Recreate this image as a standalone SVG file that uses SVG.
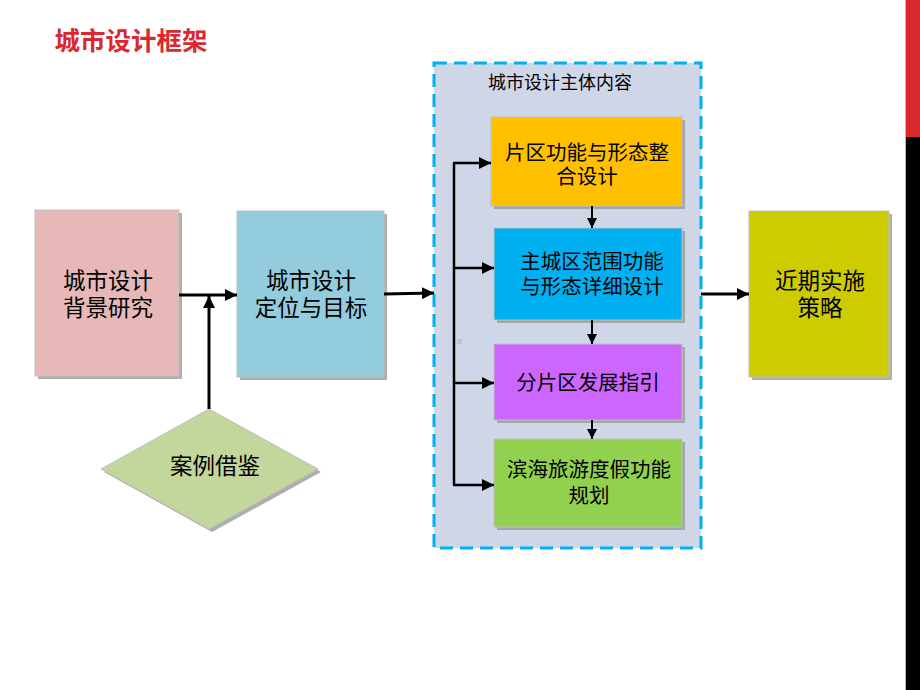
<svg xmlns="http://www.w3.org/2000/svg" width="920" height="690" viewBox="0 0 920 690">
<style>
text{font-family:"Liberation Sans","Noto Sans CJK SC",sans-serif;fill:#000;text-anchor:middle;dominant-baseline:central}
.big{font-size:22.5px}
.mid{font-size:20.5px}
.sh{fill:#9a9a9a;opacity:0.8}
.bx{stroke:#bfbfbf;stroke-width:1}
.ln{stroke:#000;fill:none}
</style>
<defs>
<marker id="ah" viewBox="0 0 10 10" refX="10" refY="5" markerWidth="4" markerHeight="4" orient="auto" markerUnits="strokeWidth">
<path d="M0,0 L10,5 L0,10 z" fill="#000"/>
</marker>
<marker id="ah2" viewBox="0 0 10 10" refX="10" refY="5" markerWidth="5" markerHeight="5" orient="auto" markerUnits="strokeWidth">
<path d="M0,0 L10,5 L0,10 z" fill="#000"/>
</marker>
</defs>
<rect x="0" y="0" width="920" height="690" fill="#fff"/>
<rect x="905" y="0" width="1" height="690" fill="#bbb"/>
<rect x="906" y="0" width="14" height="137" fill="#D9292F"/>
<rect x="906" y="137" width="14" height="553" fill="#000"/>
<text x="131" y="41" style="font-size:25.5px;font-weight:bold;fill:#D9292F">城市设计框架</text>

<g id="container">
<rect x="434" y="63" width="267" height="485" fill="#CED6E8" stroke="#00B0F0" stroke-width="3" stroke-dasharray="13 7"/>
<text x="560" y="83" style="font-size:18px">城市设计主体内容</text>
<rect x="457" y="339" width="5" height="5" fill="#bcc3d2"/>
</g>

<g id="bg">
<rect class="sh" x="38" y="213" width="144" height="166"/>
<rect class="bx" x="35" y="210" width="144" height="166" fill="#E6B8B7"/>
<text class="big" x="108" y="281">城市设计</text>
<text class="big" x="108" y="308">背景研究</text>
</g>

<g id="pos">
<rect class="sh" x="240" y="214" width="147" height="166"/>
<rect class="bx" x="237" y="211" width="147" height="166" fill="#93CDDD"/>
<text class="big" x="311" y="281">城市设计</text>
<text class="big" x="311" y="308">定位与目标</text>
</g>

<g id="case">
<polygon class="sh" points="212,412 321,472 212,532 104,472"/>
<polygon points="209,409 318,469 209,529 101,469" fill="#C3D69B" stroke="#bfbfbf" stroke-width="1"/>
<text class="big" x="215" y="466">案例借鉴</text>
</g>

<g id="a">
<rect class="sh" x="494" y="120" width="191" height="89"/>
<rect class="bx" x="491" y="117" width="191" height="89" fill="#FFC000"/>
<text class="mid" x="587" y="152">片区功能与形态整</text>
<text class="mid" x="587" y="176">合设计</text>
</g>

<g id="b">
<rect class="sh" x="497" y="231" width="188" height="92"/>
<rect class="bx" x="494" y="228" width="188" height="92" fill="#00B0F0"/>
<text class="mid" x="592" y="261">主城区范围功能</text>
<text class="mid" x="592" y="286">与形态详细设计</text>
</g>

<g id="c">
<rect class="sh" x="497" y="347" width="188" height="76"/>
<rect class="bx" x="494" y="344" width="188" height="76" fill="#CC66FF"/>
<text class="mid" x="588" y="382">分片区发展指引</text>
</g>

<g id="d">
<rect class="sh" x="497" y="442" width="188" height="88"/>
<rect class="bx" x="494" y="439" width="188" height="88" fill="#92D050"/>
<text class="mid" x="589" y="469">滨海旅游度假功能</text>
<text class="mid" x="589" y="495">规划</text>
</g>

<g id="e">
<rect class="sh" x="752" y="214" width="140" height="166"/>
<rect class="bx" x="749" y="211" width="140" height="166" fill="#CCCC00"/>
<text class="big" x="820" y="281">近期实施</text>
<text class="big" x="820" y="308">策略</text>
</g>

<g id="connectors">
<line class="ln" x1="179" y1="295" x2="237" y2="295" stroke-width="3" marker-end="url(#ah)"/>
<line class="ln" x1="209" y1="409" x2="209" y2="296" stroke-width="3" marker-end="url(#ah)"/>
<line class="ln" x1="384" y1="294" x2="434" y2="293" stroke-width="3" marker-end="url(#ah)"/>
<line class="ln" x1="701" y1="294" x2="749" y2="294" stroke-width="3" marker-end="url(#ah)"/>
<polyline class="ln" points="454,163 454,485" stroke-width="2.5"/>
<line class="ln" x1="453" y1="163" x2="491" y2="163" stroke-width="2.5" marker-end="url(#ah2)"/>
<line class="ln" x1="453" y1="268" x2="494" y2="268" stroke-width="2.5" marker-end="url(#ah2)"/>
<line class="ln" x1="453" y1="383" x2="494" y2="383" stroke-width="2.5" marker-end="url(#ah2)"/>
<line class="ln" x1="453" y1="485" x2="494" y2="485" stroke-width="2.5" marker-end="url(#ah2)"/>
<line class="ln" x1="592" y1="206" x2="592" y2="228" stroke-width="2" marker-end="url(#ah2)"/>
<line class="ln" x1="592" y1="320" x2="592" y2="344" stroke-width="2" marker-end="url(#ah2)"/>
<line class="ln" x1="592" y1="420" x2="592" y2="439" stroke-width="2" marker-end="url(#ah2)"/>
</g>
</svg>
